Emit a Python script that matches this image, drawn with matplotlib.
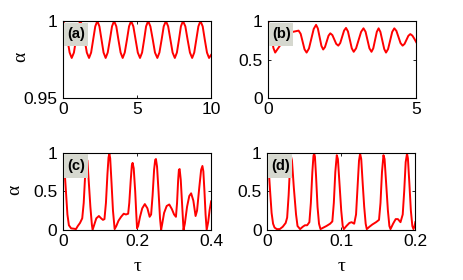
#Four panels of alpha versus tau, red curves
import matplotlib
matplotlib.use("Agg")
import matplotlib.pyplot as plt
from matplotlib.patches import Rectangle

#panel (a) values
xa = [0.00, 0.15, 0.30, 0.45, 0.59, 0.74, 0.88, 1.03, 1.17, 1.32, 1.46, 1.61,
      1.76, 1.90, 2.04, 2.18, 2.32, 2.46, 2.60, 2.74, 2.88, 3.02, 3.17, 3.31,
      3.45, 3.60, 3.74, 3.89, 4.03, 4.17, 4.32, 4.46, 4.60, 4.75, 4.90, 5.05,
      5.20, 5.34, 5.48, 5.61, 5.75, 5.90, 6.06, 6.21, 6.37, 6.51, 6.66, 6.80,
      6.95, 7.10, 7.25, 7.40, 7.55, 7.69, 7.83, 7.96, 8.10, 8.26, 8.41, 8.57,
      8.72, 8.86, 9.00, 9.14, 9.28, 9.43, 9.57, 9.72, 9.86, 10.0]
ya = [1.000, 0.9965, 0.988, 0.9795, 0.976, 0.9795, 0.988, 0.9965, 1.000, 0.9965, 0.988, 0.9795,
      0.976, 0.9795, 0.988, 0.9965, 1.000, 0.9965, 0.988, 0.9795, 0.976, 0.9795, 0.988, 0.9965,
      1.000, 0.9965, 0.988, 0.9795, 0.976, 0.9795, 0.988, 0.9965, 1.000, 0.9965, 0.988, 0.9795,
      0.976, 0.9795, 0.988, 0.9965, 1.000, 0.9965, 0.988, 0.9795, 0.976, 0.9795, 0.988, 0.9965,
      1.000, 0.9965, 0.988, 0.9795, 0.976, 0.9795, 0.988, 0.9965, 1.000, 0.9965, 0.988, 0.9795,
      0.976, 0.9795, 0.988, 0.9965, 1.000, 0.9965, 0.988, 0.9795, 0.976, 0.978]

#panel (b) values
xb = [0.00, 0.06, 0.12, 0.18, 0.24, 0.40, 0.55, 0.70, 0.85, 1.03,
      1.10, 1.165, 1.23, 1.30, 1.38, 1.46, 1.54, 1.62, 1.68, 1.74, 1.80, 1.86,
      1.92, 1.98, 2.04, 2.10, 2.17, 2.235, 2.30, 2.37, 2.435, 2.50, 2.565, 2.63,
      2.695, 2.76, 2.825, 2.89, 2.97, 3.055, 3.14, 3.22, 3.29, 3.355, 3.42, 3.49,
      3.55, 3.61, 3.67, 3.73, 3.79, 3.855, 3.92, 3.98, 4.05, 4.12, 4.19, 4.26,
      4.33, 4.40, 4.47, 4.54, 4.605, 4.67, 4.735, 4.80, 4.87, 4.935, 5.0]
yb = [0.99, 0.93, 0.79, 0.65, 0.59, 0.68, 0.80, 0.85, 0.86, 0.875,
      0.833, 0.733, 0.632, 0.59, 0.643, 0.77, 0.897, 0.95, 0.903, 0.79, 0.677, 0.63,
      0.661, 0.735, 0.809, 0.84, 0.817, 0.76, 0.703, 0.68, 0.714, 0.795, 0.876, 0.91,
      0.865, 0.755, 0.645, 0.60, 0.645, 0.7525, 0.86, 0.905, 0.86, 0.7525, 0.645, 0.60,
      0.645, 0.7525, 0.86, 0.905, 0.859, 0.7475, 0.636, 0.59, 0.636, 0.7475, 0.859, 0.905,
      0.872, 0.7925, 0.713, 0.68, 0.702, 0.755, 0.808, 0.83, 0.81, 0.77, 0.725]

#panel (c) values
xc = [0.000, 0.004, 0.008, 0.012, 0.016, 0.022, 0.030, 0.035, 0.040, 0.046,
      0.052, 0.056, 0.060, 0.063, 0.066, 0.070, 0.074, 0.078, 0.080, 0.084,
      0.090, 0.097, 0.103, 0.108, 0.112, 0.116, 0.120, 0.123, 0.1252, 0.1275,
      0.131, 0.135, 0.1395, 0.144, 0.150, 0.157, 0.164, 0.170, 0.176, 0.179,
      0.183, 0.186, 0.188, 0.191, 0.195, 0.198, 0.200, 0.203, 0.208, 0.214,
      0.221, 0.228, 0.234, 0.238, 0.242, 0.246, 0.249, 0.251, 0.254, 0.258,
      0.262, 0.265, 0.268, 0.273, 0.280, 0.287, 0.294, 0.300, 0.305, 0.308,
      0.311, 0.313, 0.315, 0.318, 0.322, 0.3255, 0.329, 0.335, 0.341, 0.346,
      0.352, 0.358, 0.362, 0.368, 0.373, 0.3765, 0.379, 0.382, 0.385, 0.388,
      0.392, 0.396, 0.400]
yc = [1.00, 0.80, 0.50, 0.20, 0.06, 0.02, 0.015, 0.01, 0.05, 0.09,
      0.15, 0.35, 0.72, 0.93, 0.90, 0.60, 0.30, 0.07, 0.00, 0.06,
      0.15, 0.18, 0.15, 0.13, 0.14, 0.35, 0.72, 0.94, 0.99, 0.93,
      0.62, 0.25, 0.01, 0.05, 0.12, 0.17, 0.21, 0.20, 0.21, 0.35,
      0.65, 0.84, 0.87, 0.80, 0.50, 0.20, 0.02, 0.05, 0.17, 0.28,
      0.335, 0.28, 0.17, 0.20, 0.45, 0.78, 0.91, 0.92, 0.82, 0.50,
      0.15, 0.00, 0.08, 0.22, 0.31, 0.33, 0.27, 0.20, 0.17, 0.35,
      0.65, 0.78, 0.79, 0.65, 0.30, 0.00, 0.08, 0.30, 0.44, 0.475,
      0.38, 0.18, 0.25, 0.55, 0.78, 0.83, 0.76, 0.50, 0.20, 0.00,
      0.10, 0.26, 0.37]

#panel (d) values
xd = [0.000, 0.002, 0.004, 0.006, 0.008, 0.010, 0.013, 0.017, 0.021, 0.025,
      0.027, 0.029, 0.031, 0.032, 0.0335, 0.036, 0.039, 0.041, 0.0445, 0.048,
      0.051, 0.054, 0.057, 0.059, 0.061, 0.0625, 0.0635, 0.0645, 0.066, 0.068,
      0.070, 0.072, 0.076, 0.080, 0.085, 0.088, 0.090, 0.092, 0.094, 0.0955,
      0.098, 0.100, 0.102, 0.1035, 0.107, 0.111, 0.114, 0.1175, 0.120, 0.122,
      0.124, 0.1255, 0.127, 0.129, 0.131, 0.133, 0.1345, 0.138, 0.142, 0.147,
      0.151, 0.153, 0.155, 0.157, 0.1585, 0.161, 0.163, 0.165, 0.1665, 0.170,
      0.1735, 0.1765, 0.180, 0.183, 0.185, 0.187, 0.1888, 0.190, 0.192, 0.194,
      0.196, 0.1975, 0.199, 0.200]
yd = [1.00, 0.80, 0.50, 0.22, 0.08, 0.03, 0.01, 0.01, 0.04, 0.09,
      0.16, 0.45, 0.85, 0.96, 0.90, 0.55, 0.20, 0.05, 0.01, 0.04,
      0.06, 0.06, 0.10, 0.35, 0.75, 0.96, 0.99, 0.95, 0.70, 0.30,
      0.08, 0.01, 0.03, 0.05, 0.08, 0.11, 0.35, 0.75, 0.97, 0.92,
      0.55, 0.25, 0.05, 0.01, 0.05, 0.09, 0.10, 0.08, 0.20, 0.55,
      0.90, 0.99, 0.92, 0.60, 0.30, 0.08, 0.01, 0.04, 0.07, 0.10,
      0.13, 0.35, 0.75, 0.97, 0.92, 0.55, 0.25, 0.05, 0.01, 0.08,
      0.14, 0.14, 0.10, 0.20, 0.50, 0.88, 0.99, 0.93, 0.60, 0.25,
      0.05, 0.01, 0.05, 0.10]

panels = [
    dict(x=xa, y=ya, xlim=(0, 10), ylim=(0.95, 1), xt=[0, 5, 10], xtl=['0', '5', '10'],
         yt=[0.95, 1], ytl=['0.95', '1'], tag='(a)', rect=[0.136, 0.65, 0.320, 0.275]),
    dict(x=xb, y=yb, xlim=(0, 5), ylim=(0, 1), xt=[0, 5], xtl=['0', '5'],
         yt=[0, 0.5, 1], ytl=['0', '0.5', '1'], tag='(b)', rect=[0.579, 0.65, 0.320, 0.275]),
    dict(x=xc, y=yc, xlim=(0, 0.4), ylim=(0, 1), xt=[0, 0.2, 0.4], xtl=['0', '0.2', '0.4'],
         yt=[0, 0.5, 1], ytl=['0', '0.5', '1'], tag='(c)', rect=[0.136, 0.179, 0.320, 0.275]),
    dict(x=xd, y=yd, xlim=(0, 0.2), ylim=(0, 1), xt=[0, 0.1, 0.2], xtl=['0', '0.1', '0.2'],
         yt=[0, 0.5, 1], ytl=['0', '0.5', '1'], tag='(d)', rect=[0.577, 0.179, 0.320, 0.275]),
]

fig = plt.figure(figsize=(4.63, 2.80), dpi=100)
axes = []
for p in panels:
    ax = fig.add_axes(p['rect'])
    ax.plot(p['x'], p['y'], color='red', linewidth=1.4)
    ax.set_xlim(p['xlim'])
    ax.set_ylim(p['ylim'])
    ax.set_xticks(p['xt'])
    ax.set_xticklabels(p['xtl'], family='Liberation Sans', fontsize=12.5)
    ax.set_yticks(p['yt'])
    ax.set_yticklabels(p['ytl'], family='Liberation Sans', fontsize=12.5)
    ax.tick_params(direction='in', length=2, width=0.6, top=True, right=True)
    ax.tick_params(axis='x', pad=3)
    ax.tick_params(axis='y', pad=4)
    for s in ax.spines.values():
        s.set_linewidth(0.8)
    #label box in the corner
    ax.add_patch(Rectangle((0.008, 0.68), 0.163, 0.30, transform=ax.transAxes,
                           facecolor='#d6d8cf', edgecolor='none', zorder=5))
    ax.text(0.09, 0.83, p['tag'], transform=ax.transAxes, ha='center', va='center',
            fontsize=10.5, fontweight='bold', family='Liberation Sans', zorder=6)
    axes.append(ax)

#greek labels
axes[0].set_ylabel('α', family='Liberation Serif', fontsize=14)
axes[0].yaxis.label.set_va('center')
axes[0].yaxis.set_label_coords(-0.284, 0.53)
axes[2].set_ylabel('α', family='Liberation Serif', fontsize=14)
axes[2].yaxis.label.set_va('center')
axes[2].yaxis.set_label_coords(-0.324, 0.52)
for ax in axes[2:]:
    ax.set_xlabel('τ', family='Liberation Serif', fontsize=14)
    ax.xaxis.label.set_va('center')
    ax.xaxis.set_label_coords(0.5, -0.47)

plt.savefig("out.png", dpi=100)
